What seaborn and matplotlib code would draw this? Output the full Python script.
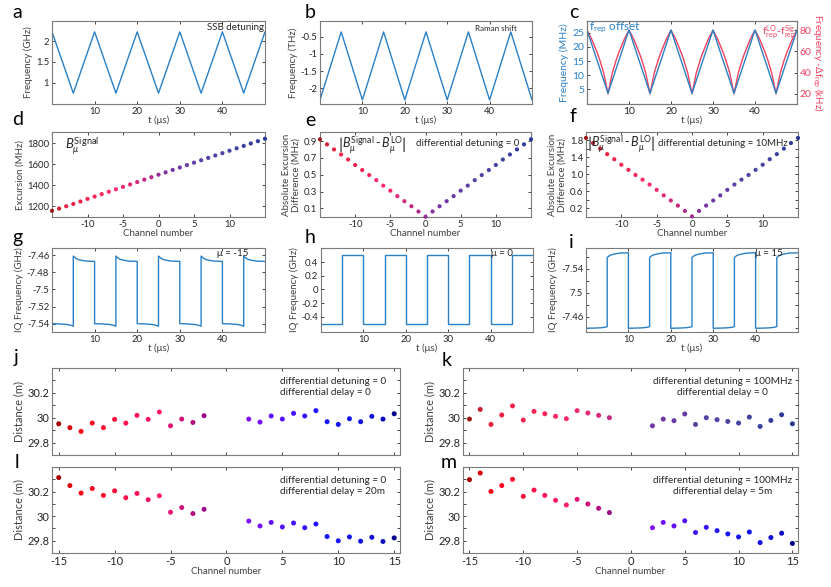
"""
Multi-panel figure: chirp detuning, excursion and distance results.
"""

import matplotlib
matplotlib.use('Agg')
import matplotlib.pyplot as plt
from matplotlib.colors import LinearSegmentedColormap
from matplotlib.ticker import FormatStrFormatter, FixedLocator
import seaborn as sns

# ---------------- data ----------------
t_vertices = [0, 5, 10, 15, 20, 25, 30, 35, 40, 45, 50]
ssb_detuning = [2.22, 0.75, 2.22, 0.75, 2.22, 0.75, 2.22, 0.75, 2.22, 0.75, 2.22]      # GHz
raman_shift = [-2.35, -0.35, -2.35, -0.35, -2.35, -0.35, -2.35, -0.35, -2.35, -0.35, -2.35]  # THz
frep_offset = [26.0, 3.6, 26.0, 3.6, 26.0, 3.6, 26.0, 3.6, 26.0, 3.6, 26.0]          # MHz

# one period of the red (delta f_rep) curve, kHz
red_period_t = [0, 1, 2, 2.5, 3, 4, 5, 6, 7, 7.5, 8, 9]
red_period_v = [80, 72.5, 63, 58, 52.5, 39.5, 20, 39.5, 52.5, 58, 63, 72.5]

channels = list(range(-15, 16))
excursion = [1157, 1178, 1200, 1222, 1245, 1270, 1292, 1315, 1338, 1361, 1384, 1407,
             1430, 1453, 1476, 1500, 1522, 1545, 1568, 1591, 1614, 1637, 1659, 1682,
             1704, 1727, 1750, 1773, 1796, 1818, 1841]
diff_0 = [0.92, 0.86, 0.80, 0.74, 0.68, 0.615, 0.555, 0.495, 0.435, 0.37, 0.31, 0.245,
          0.185, 0.125, 0.062, 0.0, 0.062, 0.125, 0.185, 0.245, 0.31, 0.37, 0.435,
          0.495, 0.555, 0.615, 0.68, 0.74, 0.80, 0.86, 0.92]
diff_10 = [1.85, 1.73, 1.60, 1.47, 1.35, 1.22, 1.10, 0.98, 0.87, 0.755, 0.63, 0.50,
           0.38, 0.26, 0.135, 0.005, 0.135, 0.26, 0.38, 0.50, 0.63, 0.755, 0.87,
           0.98, 1.10, 1.22, 1.35, 1.47, 1.60, 1.73, 1.85]

# IQ frequency, one low and one high half period (GHz)
low_t = [0, 2, 3.5, 4.5, 5]
high_t = [0, 0.5, 1, 2, 3, 5]
g_low = [-7.5400, -7.5404, -7.5410, -7.5420, -7.5431]
g_high = [-7.4608, -7.4631, -7.4647, -7.4659, -7.4667, -7.4671]
i_first = [-7.4403, -7.4406, -7.4411, -7.4420, -7.4431]
i_second = [-7.5591, -7.5620, -7.5636, -7.5653, -7.5665, -7.5670]
h_t = [0, 5, 5, 10, 10, 15, 15, 20, 20, 25, 25, 30, 30, 35, 35, 40, 40, 45, 45, 50]
h_v = [-0.5, -0.5, 0.5, 0.5, -0.5, -0.5, 0.5, 0.5, -0.5, -0.5,
       0.5, 0.5, -0.5, -0.5, 0.5, 0.5, -0.5, -0.5, 0.5, 0.5]

dist_channels = [-15, -14, -13, -12, -11, -10, -9, -8, -7, -6, -5, -4, -3, -2,
                 2, 3, 4, 5, 6, 7, 8, 9, 10, 11, 12, 13, 14, 15]
dist_j = [29.951, 29.920, 29.890, 29.957, 29.920, 29.987, 29.957, 30.019, 29.987, 30.046,
          29.935, 29.989, 29.962, 30.016, 29.989, 29.965, 30.014, 29.989, 30.035, 30.014,
          30.057, 29.968, 29.946, 29.992, 29.968, 30.011, 29.989, 30.032]
dist_k = [29.989, 30.067, 29.946, 30.022, 30.095, 29.981, 30.051, 30.032, 30.011, 29.992,
          30.057, 30.038, 30.019, 30.000, 29.935, 29.989, 29.976, 30.030, 29.946, 30.000,
          29.984, 29.970, 29.957, 30.005, 29.930, 29.978, 30.024, 29.951]
dist_l = [30.314, 30.249, 30.188, 30.225, 30.169, 30.206, 30.150, 30.185, 30.134, 30.166,
          30.032, 30.070, 30.021, 30.056, 29.960, 29.920, 29.949, 29.912, 29.944, 29.906,
          29.936, 29.834, 29.799, 29.831, 29.796, 29.828, 29.794, 29.823]
dist_m = [30.297, 30.351, 30.201, 30.249, 30.300, 30.161, 30.212, 30.169, 30.129, 30.091,
          30.137, 30.099, 30.064, 30.029, 29.906, 29.949, 29.920, 29.962, 29.867, 29.909,
          29.882, 29.855, 29.831, 29.871, 29.785, 29.826, 29.861, 29.778]

# ---------------- style ----------------
sns.set_theme(style='ticks')
plt.rcParams['font.family'] = ['Lato', 'DejaVu Sans']
plt.rcParams['axes.unicode_minus'] = False
plt.rcParams['mathtext.fontset'] = 'custom'
plt.rcParams['mathtext.rm'] = 'Lato'
plt.rcParams['mathtext.it'] = 'Lato:italic'

BLUE = '#2a80c6'
RED = '#f0405e'
TXT = '#262626'
LAB = '#404040'

cmap_soft = LinearSegmentedColormap.from_list('soft', [
    (0.0, '#9b1b1b'), (0.05, '#e8203c'), (0.3, '#ff2a6a'), (0.47, '#b0288a'),
    (0.55, '#7a34a4'), (0.8, '#4a44a4'), (1.0, '#283a96')])
cmap_bright = LinearSegmentedColormap.from_list('bright', [
    (0.0, '#a00000'), (0.05, '#ff0010'), (0.3, '#ff1a70'), (0.45, '#8c0a8a'),
    (0.55, '#8a10ff'), (0.8, '#1515ff'), (0.95, '#1010d8'), (1.0, '#00008a')])

W, H = 831, 587
fig = plt.figure(figsize=(W / 100, H / 100), dpi=100)


def add_ax(l, t, r, b):
    return fig.add_axes([l / W, 1 - b / H, (r - l) / W, (b - t) / H])


def style_axes(ax, size=6.8, right=True):
    ax.tick_params(direction='in', top=True, right=right, length=2.5, width=0.6,
                   colors=TXT, labelsize=size, pad=2)
    ax.tick_params(which='minor', direction='in', top=True, right=right,
                   length=2.5, width=0.6, colors=TXT)
    for s in ax.spines.values():
        s.set_color('#7a7a7a')
        s.set_linewidth(0.8)


def line(ax, x, y, color=BLUE, lw=1.0):
    sns.lineplot(x=x, y=y, ax=ax, color=color, linewidth=lw,
                 estimator=None, sort=False)


def dots(ax, x, y, cmap, s):
    sns.scatterplot(x=x, y=y, hue=x, palette=cmap, hue_norm=(-15, 15),
                    legend=False, s=s, linewidth=0, ax=ax, clip_on=False, zorder=3)


def tiled(first_t, first_v, second_t, second_v):
    tt, vv = [], []
    for k in range(5):
        tt += [10 * k + o for o in first_t]
        vv += first_v
        tt += [10 * k + 5 + o for o in second_t]
        vv += second_v
    return tt, vv


def letter(x, y, s):
    fig.text(x / W, 1 - y / H, s, fontsize=14, color='black', va='baseline')


ABS_DIFF = r'$\left|B_{\mu}^{\rm Signal}\,\text{-}\,B_{\mu}^{\rm LO}\right|$'

# ---------------- row 1 ----------------
ax = add_ax(52, 21, 265, 104)
line(ax, t_vertices, ssb_detuning)
ax.set_xlim(0, 50)
ax.set_ylim(0.49, 2.48)
ax.set_xticks([10, 20, 30, 40])
ax.set_yticks([1, 1.5, 2])
ax.yaxis.set_major_formatter(FormatStrFormatter('%g'))
ax.set_xlabel('t (μs)', fontsize=7, color=LAB, labelpad=0)
ax.set_ylabel('Frequency (GHz)', fontsize=7, color=LAB, labelpad=2)
ax.text(0.995, 0.98, 'SSB detuning', transform=ax.transAxes, ha='right', va='top',
        fontsize=7, color=TXT)
style_axes(ax)

ax = add_ax(320, 21, 532, 104)
line(ax, t_vertices, raman_shift)
ax.set_xlim(0, 50)
ax.set_ylim(-2.47, -0.03)
ax.set_xticks([10, 20, 30, 40])
ax.set_yticks([-2, -1.5, -1, -0.5])
ax.yaxis.set_major_formatter(FormatStrFormatter('%g'))
ax.set_xlabel('t (μs)', fontsize=7, color=LAB, labelpad=0)
ax.set_ylabel('Frequency (THz)', fontsize=7, color=LAB, labelpad=2)
ax.text(0.93, 0.95, 'Raman shift', transform=ax.transAxes, ha='right', va='top',
        fontsize=5.8, color=TXT)
style_axes(ax)

ax = add_ax(587, 21, 797, 104)
ax2 = ax.twinx()
red_t, red_v = [], []
for k in range(5):
    red_t += [10 * k + o for o in red_period_t]
    red_v += red_period_v
red_t.append(50)
red_v.append(80)
line(ax2, red_t, red_v, color=RED)
line(ax, t_vertices, frep_offset, color=BLUE)
ax.set_zorder(ax2.get_zorder() + 1)
ax.patch.set_visible(False)
ax.set_xlim(0, 50)
ax.set_ylim(-0.2, 29.2)
ax2.set_ylim(10.5, 88.6)
ax.set_xticks([10, 20, 30, 40])
ax.set_yticks([5, 10, 15, 20, 25])
ax2.set_yticks([20, 40, 60, 80])
ax.set_xlabel('t (μs)', fontsize=7, color=LAB, labelpad=0)
ax.set_ylabel('Frequency (MHz)', fontsize=7.5, color=BLUE, labelpad=2)
ax2.set_ylabel(r'Frequency -Δf$_{\rm rep}$ (kHz)', fontsize=7, color=RED,
               rotation=270, labelpad=9)
style_axes(ax, size=7.5, right=False)
style_axes(ax2, size=7.5)
ax.tick_params(axis='y', labelcolor=BLUE)
ax2.tick_params(axis='y', labelcolor=RED, right=True, top=False)
ax.text(0.01, 1.0, r'f$_{\rm rep}$ offset', transform=ax.transAxes, ha='left', va='top',
        fontsize=8.5, color=BLUE, zorder=5)
ax.text(0.995, 0.98, r'f$^{\rm LO}_{\rm rep}$-f$^{\rm Sig}_{\rm rep}$', transform=ax.transAxes,
        ha='right', va='top', fontsize=7.5, color=RED, zorder=5)

# ---------------- row 2 ----------------
ax = add_ax(52, 132, 265, 217)
dots(ax, channels, excursion, cmap_soft, 9)
ax.set_xlim(-15, 15)
ax.set_ylim(1098, 1905)
ax.set_xticks([-10, -5, 0, 5, 10])
ax.set_yticks([1200, 1400, 1600, 1800])
ax.set_xlabel('Channel number', fontsize=7, color=LAB, labelpad=0)
ax.set_ylabel('Excursion (MHz)', fontsize=7, color=LAB, labelpad=2)
ax.text(0.06, 0.84, r'$B_{\mu}^{\rm Signal}$', transform=ax.transAxes, ha='left',
        va='center', fontsize=9.5, color=TXT)
style_axes(ax)

ax = add_ax(320, 132, 531, 217)
dots(ax, channels, diff_0, cmap_soft, 9)
ax.set_xlim(-15, 15)
ax.set_ylim(-0.003, 1.007)
ax.set_xticks([-10, -5, 0, 5, 10])
ax.set_yticks([0.1, 0.3, 0.5, 0.7, 0.9])
ax.yaxis.set_major_formatter(FormatStrFormatter('%g'))
ax.set_xlabel('Channel number', fontsize=7, color=LAB, labelpad=0)
ax.set_ylabel('Absolute Excursion\nDifference (MHz)', fontsize=7, color=LAB, labelpad=2)
ax.text(0.085, 0.85, ABS_DIFF, transform=ax.transAxes, ha='left', va='center',
        fontsize=9, color=TXT)
ax.text(0.945, 0.86, 'differential detuning = 0', transform=ax.transAxes, ha='right',
        va='center', fontsize=7, color=TXT)
style_axes(ax)

ax = add_ax(586, 132, 798, 217)
dots(ax, channels, diff_10, cmap_soft, 9)
ax.set_xlim(-15, 15)
ax.set_ylim(-0.008, 1.99)
ax.set_xticks([-10, -5, 0, 5, 10])
ax.set_yticks([0.2, 0.6, 1.0, 1.4, 1.8])
ax.yaxis.set_minor_locator(FixedLocator([0.4, 0.8, 1.2, 1.6]))
ax.yaxis.set_major_formatter(FormatStrFormatter('%.1f'))
ax.set_xlabel('Channel number', fontsize=7, color=LAB, labelpad=0)
ax.set_ylabel('Absolute Excursion\nDifference (MHz)', fontsize=7, color=LAB, labelpad=2)
ax.text(0.005, 0.86, ABS_DIFF, transform=ax.transAxes, ha='left', va='center',
        fontsize=9, color=TXT)
ax.text(0.95, 0.87, 'differential detuning = 10MHz', transform=ax.transAxes, ha='right',
        va='center', fontsize=7, color=TXT)
style_axes(ax)

# ---------------- row 3 ----------------
ax = add_ax(52, 248, 265, 332)
gt, gv = tiled(low_t, g_low, high_t, g_high)
line(ax, gt, gv)
ax.set_xlim(0, 50)
ax.set_ylim(-7.5498, -7.4514)
ax.set_xticks([10, 20, 30, 40])
ax.set_yticks([-7.54, -7.52, -7.5, -7.48, -7.46])
ax.yaxis.set_major_formatter(FormatStrFormatter('%g'))
ax.set_xlabel('t (μs)', fontsize=7, color=LAB, labelpad=0)
ax.set_ylabel('IQ Frequency (GHz)', fontsize=7, color=LAB, labelpad=2)
ax.text(0.92, 0.99, 'μ = -15', transform=ax.transAxes, ha='right', va='top',
        fontsize=7, color=TXT)
style_axes(ax)

ax = add_ax(321, 248, 533, 332)
line(ax, h_t, h_v)
ax.set_xlim(0, 50)
ax.set_ylim(-0.62, 0.605)
ax.set_xticks([10, 20, 30, 40])
ax.set_yticks([-0.4, -0.2, 0, 0.2, 0.4])
ax.yaxis.set_major_formatter(FormatStrFormatter('%g'))
ax.set_xlabel('t (μs)', fontsize=7, color=LAB, labelpad=0)
ax.set_ylabel('IQ Frequency (GHz)', fontsize=7, color=LAB, labelpad=2)
ax.text(0.905, 0.99, 'μ = 0', transform=ax.transAxes, ha='right', va='top',
        fontsize=7, color=TXT)
style_axes(ax)

ax = add_ax(586, 248, 798, 332)
it, iv = tiled(low_t, i_first, high_t, i_second)
line(ax, it, iv)
ax.set_xlim(0, 50)
ax.set_ylim(-7.434, -7.575)
ax.set_xticks([10, 20, 30, 40])
ax.set_yticks([-7.56, -7.54, -7.52, -7.50, -7.48, -7.46, -7.44])
ax.set_yticklabels(['', '-7.54', '', '7.5', '', '-7.46', ''])
ax.set_xlabel('t (μs)', fontsize=7, color=LAB, labelpad=0)
ax.set_ylabel('IQ Frequency (GHz)', fontsize=7, color=LAB, labelpad=2)
ax.text(0.93, 0.99, 'μ = 15', transform=ax.transAxes, ha='right', va='top',
        fontsize=7, color=TXT)
style_axes(ax)

# ---------------- distance panels ----------------
panels = [
    ((52, 368, 400, 455), dist_j, cmap_bright,
     'differential detuning = 0\ndifferential delay = 0', 'left', 0.656, False),
    ((463, 368, 798, 455), dist_k, cmap_soft,
     'differential detuning = 100MHz\ndifferential delay = 0', 'center', 0.775, False),
    ((52, 467, 400, 553), dist_l, cmap_bright,
     'differential detuning = 0\ndifferential delay = 20m', 'left', 0.656, True),
    ((463, 467, 798, 553), dist_m, cmap_bright,
     'differential detuning = 100MHz\ndifferential delay = 5m', 'center', 0.775, True),
]
for box, vals, cmap, note, align, xpos, bottom in panels:
    ax = add_ax(*box)
    dots(ax, dist_channels, vals, cmap, 13)
    ax.set_xlim(-15.6, 15.52)
    ax.set_ylim(29.70, 30.40)
    ax.set_xticks([-15, -10, -5, 0, 5, 10, 15])
    ax.set_yticks([29.8, 30.0, 30.2])
    ax.set_yticklabels(['29.8', '30', '30.2'])
    ax.yaxis.set_minor_locator(FixedLocator([29.9, 30.1, 30.3]))
    ax.set_ylabel('Distance (m)', fontsize=8, color=LAB, labelpad=2)
    if bottom:
        ax.set_xlabel('Channel number', fontsize=7, color=LAB, labelpad=0)
    else:
        ax.set_xticklabels([])
        ax.set_xlabel('')
    ax.text(xpos, 0.9, note, transform=ax.transAxes, ha=align, va='top',
            multialignment=align, fontsize=7.2, color=TXT, linespacing=1.3)
    style_axes(ax, size=8)

# ---------------- panel letters ----------------
for x, y, s in [(12, 18, 'a'), (305, 18, 'b'), (569, 18, 'c'),
                (12, 125, 'd'), (305, 126, 'e'), (569, 122, 'f'),
                (12, 243, 'g'), (305, 243, 'h'), (569, 248, 'i'),
                (14, 363, 'j'), (442, 366, 'k'), (15, 468, 'l'), (441, 468, 'm')]:
    letter(x, y, s)

fig.savefig('out.png', dpi=100, facecolor='white')
